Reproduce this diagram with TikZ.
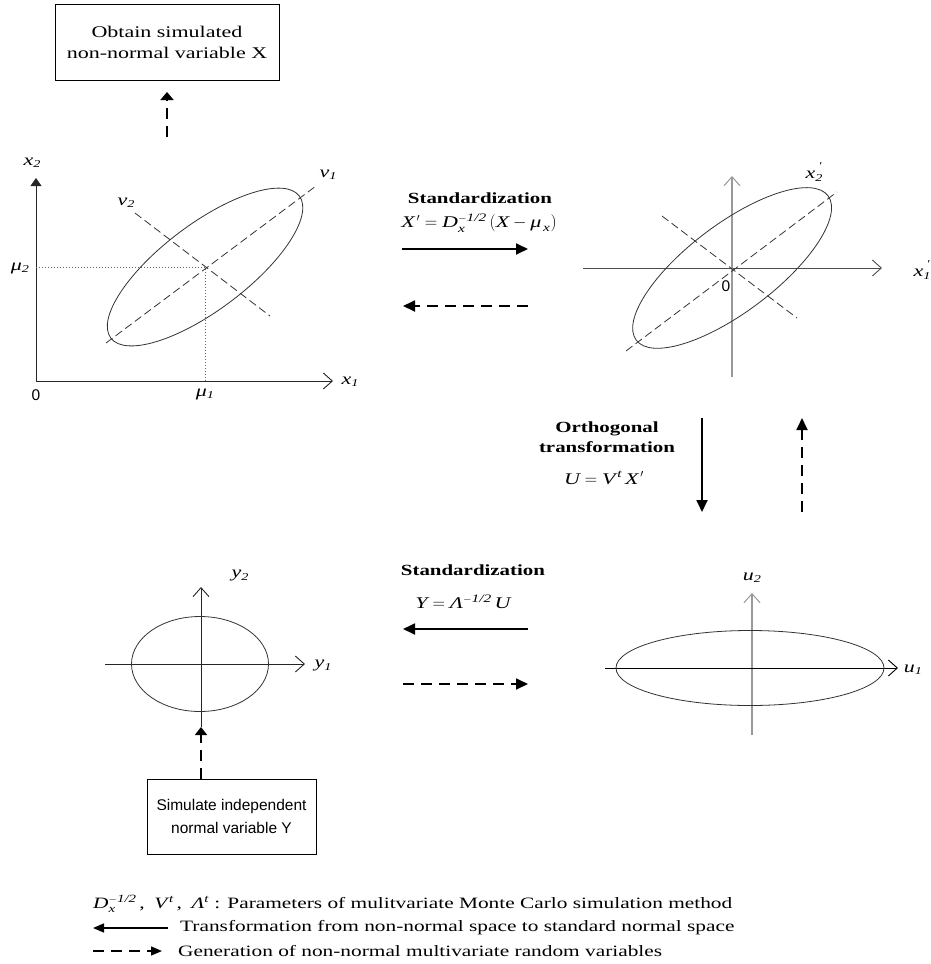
\documentclass[tikz,border=0pt]{standalone}
\usepackage{fontspec}
\usepackage{amsmath}
\setmainfont{Liberation Serif}[FakeStretch=1.35]
\setsansfont{Liberation Sans}
\usetikzlibrary{arrows.meta}
\newcommand{\sbs}[1]{\raisebox{-0.3ex}{\fontsize{10.5}{10}\selectfont #1}}
\newcommand{\prm}{\llap{\raisebox{1.2ex}{\fontsize{10.5}{10}\selectfont\upshape\,′}}}
\begin{document}
\begin{tikzpicture}[x=1pt,y=-1pt,
  every node/.style={font=\fontsize{16.3}{21}\selectfont, inner sep=0pt},
  box/.style={draw, line width=0.9pt, align=center},
  axisline/.style={line width=0.8pt, draw=black!85, -{Straight Barb[length=9pt,width=16pt,line width=0.9pt]}},
  grayaxis/.style={line width=2pt, draw=black!40, -{Straight Barb[length=9pt,width=16pt,line width=1pt]}},
  ell/.style={line width=0.8pt, draw=black!80},
  pax/.style={line width=0.8pt, draw=black!80, dash pattern=on 8pt off 4pt},
  guide/.style={line width=0.7pt, draw=black!60, dash pattern=on 1pt off 2pt},
  flowarr/.style={line width=1.8pt, -{Triangle[length=12pt,width=11pt]}},
  dflowarr/.style={flowarr, dash pattern=on 11pt off 7pt},
  lab/.style={font=\fontsize{16.3}{21}\selectfont\itshape},
  olab/.style={font=\fontsize{15.5}{20}\selectfont\sffamily},
  head/.style={font=\fontsize{15.5}{20}\selectfont\bfseries},
  legend/.style={font=\fontsize{15.8}{20}\selectfont, anchor=west}
]
\useasboundingbox (0,0) rectangle (930,964);

% ---- top box and arrow
\node[box, minimum width=224pt, minimum height=76pt] (obtain) at (167,42) {Obtain simulated\\non-normal variable X};
\coordinate (obtFrom) at (167,137);
\coordinate (obtTo) at (167,92);
\draw[dflowarr, -{Triangle[length=8pt,width=13pt]}] (obtFrom) -- (obtTo);

% ---- top-left plot
\coordinate (O1) at (36,381);
\coordinate (X1end) at (333,381);
\coordinate (X2end) at (36,178);
\coordinate (C1) at (205,267);
\draw[axisline] (O1) -- (X1end);
\draw[line width=0.8pt, draw=black!85, -{Triangle[length=8pt,width=11pt]}] (O1) -- (X2end);
\draw[guide] (36,267) -- (C1) -- (205,381);
\draw[ell, rotate around={37:(C1)}] (C1) ellipse [x radius=118, y radius=43];
\coordinate (v1a) at (106,343);
\coordinate (v1b) at (316,186);
\coordinate (v2a) at (135,213);
\coordinate (v2b) at (270,316);
\draw[pax] (v1a) -- (v1b);
\draw[pax] (v2a) -- (v2b);
\node[lab] (lx2) at (32,163) {x\sbs{2}};
\node[lab] (lv1) at (328,175) {ν\sbs{1}};
\node[lab] (lv2) at (126,203) {ν\sbs{2}};
\node[lab] (lmu2) at (20,268) {μ\sbs{2}};
\node[lab] (lmu1) at (205,394) {μ\sbs{1}};
\node[olab] (lO1) at (36,395) {0};
\node[lab] (lx1) at (350,382) {x\sbs{1}};

% ---- top middle arrows
\node[head] (std1) at (480,198) {Standardization};
\node (f1) at (479,223) {$\textit{X}^{\,\prime}=\textit{D}_{\textit{x}}^{-\textit{1/2}}\,(\textit{X}-\textit{μ}_{\,\textit{x}})$};
\coordinate (a1s) at (402,249);
\coordinate (a1e) at (528,249);
\draw[flowarr] (a1s) -- (a1e);
\coordinate (b1s) at (528,306);
\coordinate (b1e) at (403,306);
\draw[dflowarr] (b1s) -- (b1e);

% ---- top-right plot
\coordinate (C2) at (732,268);
\coordinate (h2a) at (583,268);
\coordinate (h2b) at (882,268);
\coordinate (v2ax) at (732,377);
\coordinate (v2bx) at (732,176);
\draw[line width=0.8pt, draw=black!70, -{Straight Barb[length=9pt,width=16pt,line width=0.9pt]}] (h2a) -- (h2b);
\draw[grayaxis] (v2ax) -- (v2bx);
\draw[ell, rotate around={37:(C2)}] (C2) ellipse [x radius=120, y radius=44];
\coordinate (p1a) at (626,351);
\coordinate (p1b) at (837,192);
\coordinate (p2a) at (662,216);
\coordinate (p2b) at (797,318);
\draw[pax] (p1a) -- (p1b);
\draw[pax] (p2a) -- (p2b);
\node[lab] (lx2p) at (814,172) {x\sbs{2}\prm};
\node[lab] (lx1p) at (922,270) {x\sbs{1}\prm};
\node[olab] (lO2) at (726,286) {0};

% ---- orthogonal transformation
\node[head, align=center] (orth) at (607,437) {Orthogonal\\transformation};
\node (f2) at (604,478) {$\textit{U}=\textit{V}^{\,\textit{t}}\,\textit{X}^{\,\prime}$};
\coordinate (c1s) at (702,418);
\coordinate (c1e) at (702,512);
\draw[flowarr] (c1s) -- (c1e);
\coordinate (d1s) at (802,512);
\coordinate (d1e) at (802,418);
\draw[dflowarr] (d1s) -- (d1e);

% ---- bottom-right plot
\coordinate (C4) at (750,668);
\coordinate (h4a) at (605,668);
\coordinate (h4b) at (898,668);
\coordinate (v4a) at (752,735);
\coordinate (v4b) at (752,593);
\draw[grayaxis] (v4a) -- (v4b);
\draw[line width=0.8pt, draw=black, -{Straight Barb[length=9pt,width=16pt,line width=0.9pt]}] (h4a) -- (h4b);
\draw[ell] (C4) ellipse [x radius=134, y radius=37.5];
\node[lab] (lu2) at (752,578) {u\sbs{2}};
\node[lab] (lu1) at (913,670) {u\sbs{1}};

% ---- bottom middle arrows
\node[head] (std2) at (473,570) {Standardization};
\node (f3) at (463,602) {$\textit{Y}=\textit{Λ}^{-\textit{1/2}}\,\textit{U}$};
\coordinate (e1s) at (528,629);
\coordinate (e1e) at (403,629);
\draw[flowarr] (e1s) -- (e1e);
\coordinate (g1s) at (403,684);
\coordinate (g1e) at (528,684);
\draw[dflowarr] (g1s) -- (g1e);

% ---- bottom-left plot
\coordinate (C3) at (200,664);
\coordinate (h3a) at (105,664);
\coordinate (h3b) at (305,664);
\coordinate (v3a) at (201,727);
\coordinate (v3b) at (201,587);
\draw[axisline] (h3a) -- (h3b);
\draw[axisline] (v3a) -- (v3b);
\draw[ell] (C3) ellipse [x radius=68.5, y radius=47.5];
\node[lab] (ly2) at (240,576) {y\sbs{2}};
\node[lab] (ly1) at (323,666) {y\sbs{1}};

% ---- bottom box and arrow
\node[box, font=\fontsize{15.5}{23}\selectfont\sffamily, minimum width=169pt, minimum height=75pt] (simulate) at (231.5,816.5) {Simulate independent\\normal variable Y};
\coordinate (simTo) at (201,727);
\draw[dflowarr, -{Triangle[length=8pt,width=12pt]}] (simulate.north -| simTo) -- (simTo);

% ---- legend
\node[legend] (leg1) at (93,904) {$\textit{D}_{\textit{x}}^{-\textit{1/2}}$\,,\; $\textit{V}^{\,\textit{t}}$\,,\; $\textit{Λ}^{\textit{t}}$ : Parameters of mulitvariate Monte Carlo simulation method};
\coordinate (l2s) at (168,928);
\coordinate (l2e) at (93,928);
\draw[line width=1.4pt, -{Triangle[length=11pt,width=9pt]}] (l2s) -- (l2e);
\node[legend] (leg2) at (180,928) {Transformation from non-normal space to standard normal space};
\coordinate (l3s) at (93,951);
\coordinate (l3e) at (162,951);
\draw[line width=1.4pt, dash pattern=on 11pt off 7pt, -{Triangle[length=11pt,width=9pt]}] (l3s) -- (l3e);
\node[legend] (leg3) at (178,951) {Generation of non-normal multivariate random variables};
\end{tikzpicture}
\end{document}
